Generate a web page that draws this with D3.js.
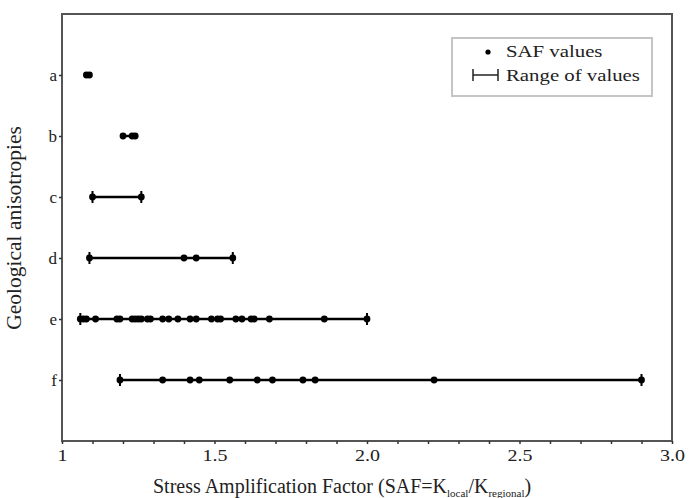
<!DOCTYPE html>
<html>
<head>
<meta charset="utf-8">
<style>
    body { margin: 0; background: #fff; }
    svg { display: block; }
    svg text { font-family: 'Liberation Serif', 'Times New Roman', serif; }
    .axis .domain { display: none; }
    .axis .tick line { stroke: #333; stroke-width: 1.5; }
    .axis .tick text { fill: #222; }
    .frame { fill: none; stroke: #555; stroke-width: 2; }
    .range-line { stroke: #000; stroke-width: 2.5; }
    .cap { stroke: #000; stroke-width: 2; }
    .dot { fill: #000; }
</style>
</head>
<body>
<svg width="691" height="498"></svg>

<script src="https://d3js.org/d3.v7.min.js"></script>
<script>
    // data
    let categories = ["a", "b", "c", "d", "e", "f"]
    let capped = ["c", "d", "e", "f"] // rows drawn with end caps

    let valuesA = [1.08, 1.09]
    let valuesB = [1.20, 1.23, 1.24]
    let valuesC = [1.10, 1.26]
    let valuesD = [1.09, 1.40, 1.44, 1.56]
    let valuesE = [1.06, 1.07, 1.08, 1.11, 1.18, 1.19, 1.23, 1.24, 1.25, 1.26, 1.28, 1.29,
        1.33, 1.35, 1.38, 1.42, 1.44, 1.49, 1.51, 1.52, 1.57, 1.59, 1.62, 1.63, 1.68, 1.86, 2.00]
    let valuesF = [1.19, 1.33, 1.42, 1.45, 1.55, 1.64, 1.69, 1.79, 1.83, 2.22, 2.90]

    let xTickValues = [1, 1.5, 2, 2.5, 3]
    let xTickLabels = ["1", "1.5", "2.0", "2.5", "3.0"]
    let xMinorTicks = d3.range(10, 31).map(d => d / 10)

    let rows = categories.map((c, i) => ({
        cat: c,
        values: [valuesA, valuesB, valuesC, valuesD, valuesE, valuesF][i]
    }))

    let margin = { top: 14, right: 19, bottom: 57, left: 62 }
    let width = 691, height = 498
    let serif = "'Liberation Serif', 'Times New Roman', serif"

    let svg = d3.select("svg")

    let x = d3.scaleLinear()
        .domain([1, 3])
        .range([margin.left, width - margin.right])

    let y = d3.scalePoint()
        .domain(categories)
        .range([margin.top, height - margin.bottom])
        .padding(1)

    // frame
    svg.append("rect")
        .attr("class", "frame")
        .attr("x", margin.left)
        .attr("y", margin.top)
        .attr("width", x(3) - x(1))
        .attr("height", height - margin.bottom - margin.top)

    // x axis
    let xAxis = svg.append("g")
        .attr("class", "x axis")
        .attr("transform", `translate(0,${height - margin.bottom})`)
        .call(d3.axisBottom(x)
            .tickValues(xMinorTicks)
            .tickSize(3)
            .tickPadding(6)
            .tickFormat(d => {
                let i = xTickValues.findIndex(v => Math.abs(v - d) < 1e-6)
                return i >= 0 ? xTickLabels[i] : ""
            }))
        .attr("font-family", serif)

    xAxis.selectAll(".tick text")
        .style("font-size", "16px")
        .attr("y", 20)
        .attr("dy", 0)
        .attr("transform", "scale(1.25,1)")

    // y axis
    let yAxis = svg.append("g")
        .attr("class", "y axis")
        .attr("transform", `translate(${margin.left},0)`)
        .call(d3.axisLeft(y).tickSize(3).tickPadding(2))
        .attr("font-family", serif)

    yAxis.selectAll(".tick text")
        .style("font-size", "17px")
        .attr("dy", "0.35em")

    // ranges
    let plot = svg.append("g")

    plot.selectAll(".range-line")
        .data(rows)
        .join("line")
        .attr("class", "range-line")
        .attr("x1", d => x(d3.min(d.values)))
        .attr("x2", d => x(d3.max(d.values)))
        .attr("y1", d => y(d.cat))
        .attr("y2", d => y(d.cat))

    let caps = rows.filter(d => capped.includes(d.cat))
        .flatMap(d => [
            { cat: d.cat, v: d3.min(d.values) },
            { cat: d.cat, v: d3.max(d.values) }
        ])

    plot.selectAll(".cap")
        .data(caps)
        .join("line")
        .attr("class", "cap")
        .attr("x1", d => x(d.v))
        .attr("x2", d => x(d.v))
        .attr("y1", d => y(d.cat) - 6)
        .attr("y2", d => y(d.cat) + 6)

    // dots
    let dots = rows.flatMap(d => d.values.map(v => ({ cat: d.cat, v: v })))

    plot.selectAll(".dot")
        .data(dots)
        .join("circle")
        .attr("class", "dot")
        .attr("cx", d => x(d.v))
        .attr("cy", d => y(d.cat))
        .attr("r", 3.4)

    // axis titles
    let xTitle = svg.append("text")
        .attr("x", 153)
        .attr("y", 493)
        .attr("text-anchor", "start")
        .style("font-size", "20px")
        .style("fill", "#222")

    xTitle.append("tspan").text("Stress Amplification Factor (SAF=K")
    xTitle.append("tspan").attr("dy", 4).style("font-size", "11px").text("local")
    xTitle.append("tspan").attr("dy", -4).text("/K")
    xTitle.append("tspan").attr("dy", 4).style("font-size", "11px").text("regional")
    xTitle.append("tspan").attr("dy", -4).text(")")

    svg.append("text")
        .attr("transform", `translate(21,228) rotate(-90)`)
        .attr("text-anchor", "middle")
        .style("font-size", "21.5px")
        .style("fill", "#222")
        .text("Geological anisotropies")

    // legend
    let legend = svg.append("g")

    legend.append("rect")
        .attr("x", 452)
        .attr("y", 38)
        .attr("width", 200)
        .attr("height", 58)
        .attr("fill", "#fff")
        .attr("stroke", "#c4c4c4")
        .attr("stroke-width", 2)

    legend.append("circle")
        .attr("class", "dot")
        .attr("cx", 488)
        .attr("cy", 52)
        .attr("r", 2.6)

    legend.append("line")
        .attr("stroke", "#222")
        .attr("stroke-width", 1.5)
        .attr("x1", 473).attr("x2", 498)
        .attr("y1", 75).attr("y2", 75)

    legend.selectAll(".lcap")
        .data([473, 498])
        .join("line")
        .attr("stroke", "#222")
        .attr("stroke-width", 1.5)
        .attr("x1", d => d).attr("x2", d => d)
        .attr("y1", 69).attr("y2", 81)

    legend.selectAll(".ltext")
        .data(["SAF values", "Range of values"])
        .join("text")
        .attr("transform", (d, i) => `translate(506,${57 + i * 24}) scale(1.3,1)`)
        .style("font-size", "16px")
        .style("fill", "#222")
        .text(d => d)
</script>
</body>
</html>
